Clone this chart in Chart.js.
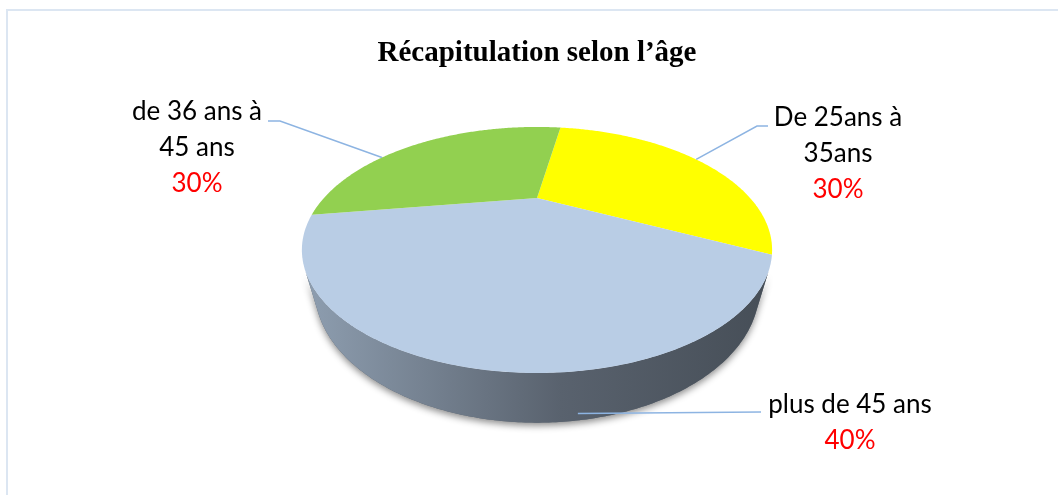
<!DOCTYPE html>
<html>
<head>
<meta charset="utf-8">
<script src="https://cdn.jsdelivr.net/npm/chart.js"></script>
<style>
  html, body { margin: 0; padding: 0; background: #fff; }
  canvas { display: block; }
</style>
</head>
<body>
<canvas id="myChart" width="1058" height="495"></canvas>
<script>
// data
const categories = [['De 25ans à', '35ans'], ['plus de 45 ans'], ['de 36 ans à', '45 ans']];
const shares = [30, 40, 30];
const sliceColors = ['#ffff00', '#b9cde5', '#92d050'];

// 3d look of the pie (camera tilt in degrees, distance and thickness in radii)
const view = { tilt: 28.3, distance: 2.08, thickness: 0.21 };

// where each data label sits, and where its leader line starts
const labelSpots = [
  { x: 838, y: 118, tail: [768, 126], knee: [757, 126], at: 0.5 },
  { x: 850, y: 405, tail: [761, 412], knee: [761, 412], at: 0.39 },
  { x: 197, y: 112, tail: [268, 121], knee: [280, 121], at: 0.35 }
];

function project(arc, angle, rad, lift) {
  const t = view.tilt * Math.PI / 180;
  const X = rad * Math.cos(angle), Z = -rad * Math.sin(angle);
  const up = lift * Math.cos(t) + Z * Math.sin(t);
  const d = view.distance + Z * Math.cos(t) - lift * Math.sin(t);
  const k = arc.outerRadius * view.distance / d;
  return [arc.x + X * k, arc.y - up * k];
}

function shade(hex, f) {
  const n = parseInt(hex.slice(1), 16);
  const r = Math.round(((n >> 16) & 255) * f), g = Math.round(((n >> 8) & 255) * f), b = Math.round((n & 255) * f);
  return `rgb(${r},${g},${b})`;
}

// visible part of the side wall (front), in canvas angles
function wallRange() {
  const s = 1 / (view.distance * Math.cos(view.tilt * Math.PI / 180));
  const a = Math.asin(Math.min(s, 1));
  return [a, Math.PI - a];
}

function rimPath(ctx, arc, a0, a1, lift, first) {
  const steps = Math.max(2, Math.ceil(Math.abs(a1 - a0) / 0.01));
  for (let i = 0; i <= steps; i++) {
    const p = project(arc, a0 + (a1 - a0) * i / steps, 1, lift);
    if (first && i === 0) ctx.moveTo(p[0], p[1]); else ctx.lineTo(p[0], p[1]);
  }
}

const pie3d = {
  id: 'pie3d',
  beforeDraw(chart) {
    const ctx = chart.ctx;
    ctx.save();
    ctx.strokeStyle = '#dce6f2';
    ctx.lineWidth = 2;
    ctx.strokeRect(7, 10, 1100, 600);
    ctx.restore();
  },
  beforeDatasetsDraw(chart) {
    const ctx = chart.ctx;
    const arcs = chart.getDatasetMeta(0).data;
    const h = -view.thickness;
    const [w0, w1] = wallRange();
    const ref = arcs[0];
    const left = project(ref, w1, 1, 0)[0], right = project(ref, w0, 1, 0)[0];

    ctx.save();
    // soft shadow under the wall
    ctx.beginPath();
    rimPath(ctx, ref, w0, w1, 0, true);
    rimPath(ctx, ref, w1, w0, h, false);
    ctx.closePath();
    ctx.shadowColor = 'rgba(0,0,0,0.45)';
    ctx.shadowBlur = 7;
    ctx.shadowOffsetY = 3;
    ctx.fillStyle = '#5a6470';
    ctx.fill();
    ctx.restore();

    // side walls
    arcs.forEach((arc, i) => {
      const a0 = Math.max(arc.startAngle, w0), a1 = Math.min(arc.endAngle, w1);
      if (a1 <= a0) return;
      const grad = ctx.createLinearGradient(left, 0, right, 0);
      grad.addColorStop(0, shade(sliceColors[i], 0.77));
      grad.addColorStop(0.55, shade(sliceColors[i], 0.48));
      grad.addColorStop(1, shade(sliceColors[i], 0.38));
      ctx.beginPath();
      rimPath(ctx, arc, a0, a1, 0, true);
      rimPath(ctx, arc, a1, a0, h, false);
      ctx.closePath();
      ctx.fillStyle = grad;
      ctx.fill();
    });

    // top faces
    arcs.forEach((arc, i) => {
      const c = project(arc, 0, 0, 0);
      ctx.beginPath();
      ctx.moveTo(c[0], c[1]);
      rimPath(ctx, arc, arc.startAngle, arc.endAngle, 0, false);
      ctx.closePath();
      ctx.fillStyle = sliceColors[i];
      ctx.fill();
    });
    return false;
  },
  afterDraw(chart) {
    const ctx = chart.ctx;
    const arcs = chart.getDatasetMeta(0).data;
    const total = shares.reduce((a, b) => a + b, 0);
    const [w0, w1] = wallRange();
    ctx.save();
    arcs.forEach((arc, i) => {
      const spot = labelSpots[i];
      const a = arc.startAngle + (arc.endAngle - arc.startAngle) * spot.at;
      const onWall = Math.sin(a) > Math.sin(w0) && a > w0 && a < w1;
      const end = project(arc, a, 1, onWall ? -view.thickness * 0.85 : 0);
      ctx.strokeStyle = '#8db4e2';
      ctx.lineWidth = 1.5;
      ctx.beginPath();
      ctx.moveTo(spot.tail[0], spot.tail[1]);
      ctx.lineTo(spot.knee[0], spot.knee[1]);
      ctx.lineTo(end[0], end[1]);
      ctx.stroke();

      ctx.textAlign = 'center';
      ctx.textBaseline = 'middle';
      ctx.font = '26px Lato';
      const lines = categories[i];
      lines.forEach((txt, j) => {
        ctx.fillStyle = '#000000';
        ctx.fillText(txt, spot.x, spot.y + j * 36);
      });
      ctx.fillStyle = '#ff0000';
      ctx.fillText(Math.round(shares[i] / total * 100) + '%', spot.x, spot.y + lines.length * 36);
    });
    ctx.restore();
  }
};

new Chart('myChart', {
  type: 'pie',
  data: {
    labels: categories,
    datasets: [{
      data: shares,
      backgroundColor: sliceColors,
      borderWidth: 0
    }]
  },
  options: {
    responsive: false,
    devicePixelRatio: 1,
    animation: false,
    rotation: 9,
    radius: 213,
    layout: { padding: { left: 16, right: 0, top: 0, bottom: 170 } },
    plugins: {
      legend: { display: false },
      tooltip: { enabled: false },
      title: {
        display: true,
        text: 'Récapitulation selon l’âge',
        color: '#000000',
        font: { family: 'Liberation Serif', size: 29, weight: 'bold', lineHeight: 1.2 },
        padding: { top: 36, bottom: 0 }
      }
    }
  },
  plugins: [pie3d]
});
</script>
</body>
</html>
